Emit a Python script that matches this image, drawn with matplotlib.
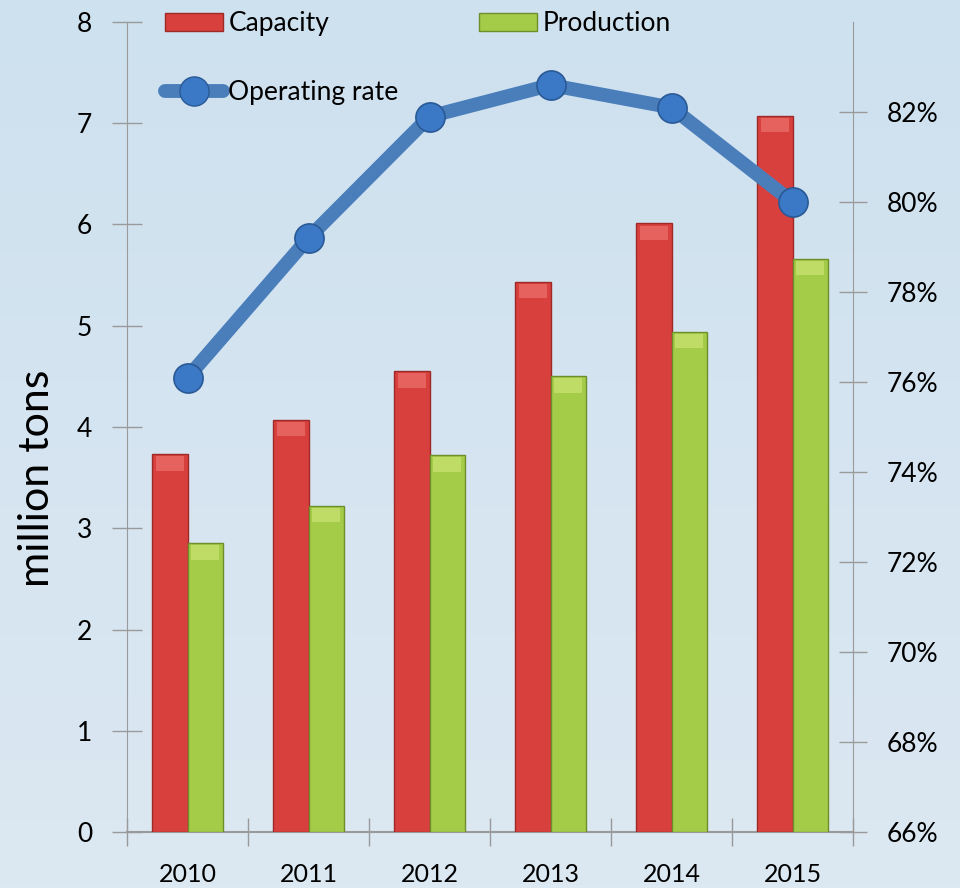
import numpy as np
import matplotlib
matplotlib.use("Agg")
import matplotlib.pyplot as plt
from matplotlib.lines import Line2D
from matplotlib.patches import Patch
from matplotlib.ticker import FuncFormatter, FixedLocator
from matplotlib.colors import LinearSegmentedColormap

plt.rcParams['font.family'] = ['Lato', 'DejaVu Sans']

years = ["2010", "2011", "2012", "2013", "2014", "2015"]
capacity = [3.73, 4.07, 4.55, 5.43, 6.01, 7.07]
production = [2.85, 3.22, 3.72, 4.50, 4.94, 5.66]
operating_rate = [76.1, 79.2, 81.9, 82.6, 82.1, 80.0]

left_ticks = [0, 1, 2, 3, 4, 5, 6, 7, 8]
right_ticks = [66, 68, 70, 72, 74, 76, 78, 80, 82]

RED = "#D8403E"
RED_EDGE = "#9E2A28"
RED_CAP = "#E5625E"
GREEN = "#A5CC48"
GREEN_EDGE = "#6E8E2A"
GREEN_CAP = "#BEDC66"
BLUE_LINE = "#4A7EBB"
BLUE_MARK = "#3B78C6"
GRAY = "#9A9A9A"

fig = plt.figure(figsize=(9.6, 8.88), dpi=100)
bg = fig.add_axes([0, 0, 1, 1], zorder=-10)
grad = np.linspace(0, 1, 256).reshape(-1, 1)
cmap = LinearSegmentedColormap.from_list("bg", ["#CEE1EF", "#DCE8F2"])
bg.imshow(grad, aspect="auto", cmap=cmap, extent=[0, 1, 0, 1])
bg.set_axis_off()

ax = fig.add_axes([127/960, 1-832/888, (853-127)/960, (832-22)/888])
ax.patch.set_alpha(0)
x = np.arange(len(years))
w = 0.29

ax.bar(x - w/2, capacity, w, color=RED, edgecolor=RED_EDGE, linewidth=1.0, zorder=3)
ax.bar(x + w/2, production, w, color=GREEN, edgecolor=GREEN_EDGE, linewidth=1.0, zorder=3)
cap_h = 0.14
ax.bar(x - w/2, [cap_h]*len(x), w*0.8, bottom=np.array(capacity)-cap_h-0.02,
       color=RED_CAP, edgecolor="none", zorder=4)
ax.bar(x + w/2, [cap_h]*len(x), w*0.8, bottom=np.array(production)-cap_h-0.02,
       color=GREEN_CAP, edgecolor="none", zorder=4)

ax.set_xlim(-0.5, len(years) - 0.5)
ax.set_ylim(0, 8)
ax.yaxis.set_major_locator(FixedLocator(left_ticks))
ax.set_xticks(x)
ax.set_xticklabels(years, fontsize=18)
ax.xaxis.set_minor_locator(FixedLocator(np.arange(-0.5, len(years), 1.0)))
ax.tick_params(axis="x", which="major", length=0, pad=22)
ax.tick_params(axis="x", which="minor", direction="inout", length=20, color=GRAY, width=1)
ax.tick_params(axis="y", direction="inout", length=22, color=GRAY, width=1, labelsize=19, pad=14)
for s in ["top", "right"]:
    ax.spines[s].set_visible(False)
ax.spines["left"].set_color(GRAY)
ax.spines["bottom"].set_color(GRAY)
ax.spines["bottom"].set_linewidth(1.5)
ax.set_ylabel("million tons", fontsize=31)
ax.yaxis.set_label_coords(-0.098, 0.437)

ax2 = ax.twinx()
ax2.set_ylim(66, 84)
ax2.yaxis.set_major_locator(FixedLocator(right_ticks))
ax2.yaxis.set_major_formatter(FuncFormatter(lambda v, p: f"{v:.0f}%"))
ax2.tick_params(axis="y", direction="inout", length=20, color=GRAY, width=1, labelsize=19, pad=14)
for s in ["top", "left", "bottom"]:
    ax2.spines[s].set_visible(False)
ax2.spines["right"].set_color(GRAY)
ax2.plot(x, operating_rate, color=BLUE_LINE, linewidth=10, solid_capstyle="round",
         solid_joinstyle="round", marker="o", markersize=21, markerfacecolor=BLUE_MARK,
         markeredgecolor="#2A5A96", markeredgewidth=1.2, zorder=5)

handles = [
    Patch(facecolor=RED, edgecolor=RED_EDGE),
    Line2D([0], [0], color=BLUE_LINE, linewidth=10, marker="o", markersize=21,
           markerfacecolor=BLUE_MARK, markeredgecolor="#2A5A96", solid_capstyle="round"),
    Patch(facecolor=GREEN, edgecolor=GREEN_EDGE),
]
labels = ["Capacity", "Operating rate", "Production"]
fig.legend(handles, labels, ncol=2, loc="upper left",
           bbox_to_anchor=(165/960, 1 - 11/888), frameon=False, fontsize=19,
           handlelength=2.2, handleheight=0.7, handletextpad=0.2,
           columnspacing=3.05, labelspacing=1.67, borderaxespad=0, borderpad=0)

fig.savefig("out.png", dpi=100)
